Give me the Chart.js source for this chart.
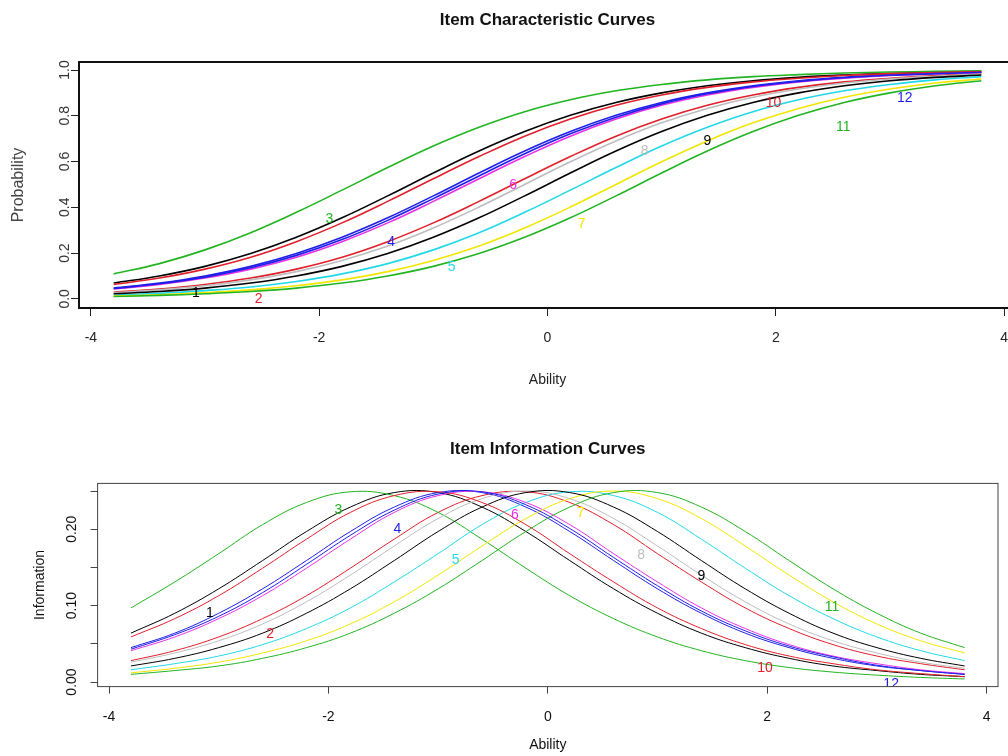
<!DOCTYPE html>
<html>
<head>
<meta charset="utf-8">
<script src="https://cdn.jsdelivr.net/npm/chart.js@4.4.1/dist/chart.umd.min.js"></script>
<style>
  html, body { margin: 0; padding: 0; background: #fff; width: 1008px; height: 756px; overflow: hidden; position: relative; }
  canvas { position: absolute; left: 0; }
  #iccChart { top: 0; }
  #infoChart { top: 400px; }
</style>
</head>
<body>
<canvas id="iccChart" width="1030" height="400"></canvas>
<canvas id="infoChart" width="1008" height="356"></canvas>
<script>
// ability grid the curves were read at
const abilityPoints = [-3.8, -3.4, -3.0, -2.6, -2.2, -1.8, -1.4, -1.0, -0.6, -0.2, 0.2, 0.6, 1.0, 1.4, 1.8, 2.2, 2.6, 3.0, 3.4, 3.8];
const abilityTicks = [-4, -2, 0, 2, 4];
const probTicks = [0, 0.2, 0.4, 0.6, 0.8, 1.0];
const infoTicks = [0, 0.05, 0.10, 0.15, 0.20, 0.25];
const infoTickText = ["0.00", "", "0.10", "", "0.20", ""];

const itemNames = ["1", "2", "3", "4", "5", "6", "7", "8", "9", "10", "11", "12"];
const itemColors = ["#000000", "#e0202a", "#22b422", "#1f1fe8", "#22d8e8", "#e632e6",
                    "#f2e600", "#bdbdbd", "#000000", "#e0202a", "#22b422", "#1f1fe8"];

// item characteristic curves (probability)
const icc1  = [.069, .100, .142, .198, .269, .354, .450, .550, .646, .731, .802, .858, .900, .931, .953, .968, .978, .985, .990, .993];
const icc2  = [.029, .043, .063, .091, .130, .182, .250, .332, .426, .525, .622, .711, .786, .846, .891, .924, .948, .964, .976, .984];
const icc3  = [.109, .154, .214, .289, .378, .475, .574, .668, .750, .818, .870, .909, .937, .957, .971, .980, .987, .991, .994, .996];
const icc4  = [.047, .069, .100, .142, .198, .269, .354, .450, .550, .646, .731, .802, .858, .900, .931, .953, .968, .978, .985, .990];
const icc5  = [.016, .024, .036, .052, .076, .109, .154, .214, .289, .378, .475, .574, .668, .750, .818, .870, .909, .937, .957, .971];
const icc6  = [.043, .063, .091, .130, .182, .250, .332, .426, .525, .622, .711, .786, .846, .891, .924, .948, .964, .976, .984, .989];
const icc7  = [.012, .018, .027, .039, .057, .083, .119, .168, .231, .310, .401, .500, .599, .690, .769, .832, .881, .917, .943, .961];
const icc8  = [.027, .039, .057, .083, .119, .168, .231, .310, .401, .500, .599, .690, .769, .832, .881, .917, .943, .961, .973, .982];
const icc9  = [.022, .032, .047, .069, .100, .142, .198, .269, .354, .450, .550, .646, .731, .802, .858, .900, .931, .953, .968, .978];
const icc10 = [.063, .091, .130, .182, .250, .332, .426, .525, .622, .711, .786, .846, .891, .924, .948, .964, .976, .984, .989, .993];
const icc11 = [.010, .015, .022, .032, .047, .069, .100, .142, .198, .269, .354, .450, .550, .646, .731, .802, .858, .900, .931, .953];
const icc12 = [.045, .066, .095, .136, .190, .259, .343, .438, .537, .634, .721, .794, .852, .896, .928, .950, .966, .977, .984, .990];

// item information curves
const info1  = [.064, .090, .122, .159, .197, .229, .248, .248, .229, .197, .159, .122, .090, .064, .045, .031, .021, .015, .010, .007];
const info2  = [.028, .041, .059, .083, .113, .149, .187, .222, .244, .249, .235, .206, .168, .131, .097, .070, .049, .034, .024, .016];
const info3  = [.097, .131, .168, .206, .235, .249, .244, .222, .187, .149, .113, .083, .059, .041, .028, .019, .013, .009, .006, .004];
const info4  = [.045, .064, .090, .122, .159, .197, .229, .248, .248, .229, .197, .159, .122, .090, .064, .045, .031, .021, .015, .010];
const info5  = [.016, .024, .034, .049, .070, .097, .131, .168, .206, .235, .249, .244, .222, .187, .149, .113, .083, .059, .041, .028];
const info6  = [.041, .059, .083, .113, .149, .187, .222, .244, .249, .235, .206, .168, .131, .097, .070, .049, .034, .024, .016, .011];
const info7  = [.012, .018, .026, .038, .054, .076, .105, .140, .178, .214, .240, .250, .240, .214, .178, .140, .105, .076, .054, .038];
const info8  = [.026, .038, .054, .076, .105, .140, .178, .214, .240, .250, .240, .214, .178, .140, .105, .076, .054, .038, .026, .018];
const info9  = [.021, .031, .045, .064, .090, .122, .159, .197, .229, .248, .248, .229, .197, .159, .122, .090, .064, .045, .031, .021];
const info10 = [.059, .083, .113, .149, .187, .222, .244, .249, .235, .206, .168, .131, .097, .070, .049, .034, .024, .016, .011, .007];
const info11 = [.010, .015, .021, .031, .045, .064, .090, .122, .159, .197, .229, .248, .248, .229, .197, .159, .122, .090, .064, .045];
const info12 = [.043, .062, .086, .117, .154, .192, .225, .246, .249, .232, .201, .163, .126, .093, .067, .047, .033, .022, .015, .010];

// where the item numbers sit on each panel
const labelAbility = [-3.08, -2.53, -1.91, -1.37, -0.84, -0.30, 0.30, 0.85, 1.40, 1.98, 2.59, 3.13];
const iccLabelY  = [0.026, 0.0, 0.35, 0.246, 0.14, 0.496, 0.325, 0.645, 0.689, 0.855, 0.75, 0.877];
const infoLabelY = [0.090, 0.063, 0.225, 0.200, 0.160, 0.218, 0.221, 0.166, 0.138, 0.018, 0.098, -0.003];

const iccSeries = [icc1, icc2, icc3, icc4, icc5, icc6, icc7, icc8, icc9, icc10, icc11, icc12];
const infoSeries = [info1, info2, info3, info4, info5, info6, info7, info8, info9, info10, info11, info12];

const FONT = "'Liberation Sans', Arial, Helvetica, sans-serif";
Chart.defaults.font.family = FONT;
Chart.defaults.color = "#111";

// R style box plus the curve numbers
const frameAndLabels = {
  id: "frameAndLabels",
  afterDatasetsDraw(chart, args, opts) {
    const { ctx, chartArea: a, scales } = chart;
    ctx.save();
    ctx.beginPath();
    ctx.rect(a.left, a.top, a.right - a.left, a.bottom - a.top);
    ctx.clip();
    ctx.font = "14px " + FONT;
    ctx.textAlign = "center";
    ctx.textBaseline = "middle";
    opts.ys.forEach((v, i) => {
      ctx.fillStyle = itemColors[i];
      ctx.fillText(itemNames[i], scales.x.getPixelForValue(labelAbility[i]), scales.y.getPixelForValue(v));
    });
    ctx.restore();
    ctx.save();
    ctx.strokeStyle = opts.frameColor;
    ctx.lineWidth = opts.frameWidth;
    ctx.strokeRect(a.left, a.top, a.right - a.left, a.bottom - a.top);
    ctx.restore();
  }
};

function makeDatasets(series, width) {
  return series.map((vals, i) => ({
    label: itemNames[i],
    data: abilityPoints.map((x, j) => ({ x: x, y: vals[j] })),
    borderColor: itemColors[i],
    borderWidth: width,
    pointRadius: 0,
    tension: 0.4,
    fill: false,
    order: series.length - i
  }));
}

function renderIccChart() {
  const ctx = document.getElementById("iccChart").getContext("2d");
  new Chart(ctx, {
    type: "line",
    data: { datasets: makeDatasets(iccSeries, 1.6) },
    options: {
      responsive: false,
      animation: false,
      layout: { padding: { left: 0, right: 14, top: 0, bottom: 0 } },
      plugins: {
        legend: { display: false },
        tooltip: { enabled: false },
        title: {
          display: true, fullSize: false,
          text: "Item Characteristic Curves",
          font: { size: 17, weight: "bold" }, color: "#111",
          padding: { top: 10, bottom: 31.6 }
        },
        frameAndLabels: { ys: iccLabelY, frameColor: "#111", frameWidth: 2 }
      },
      scales: {
        x: {
          type: "linear", min: -4.104, max: 4.104,
          afterBuildTicks: s => { s.ticks = abilityTicks.map(v => ({ value: v })); },
          afterFit: s => { s.height = 92; },
          ticks: { autoSkip: false, maxRotation: 0, padding: 14, font: { size: 14 }, color: "#222", callback: v => String(v) },
          grid: { drawOnChartArea: false, drawTicks: true, tickLength: 8, color: "#222" },
          border: { display: false },
          title: { display: true, text: "Ability", font: { size: 14 }, color: "#222", padding: { top: 0, bottom: 11.6 } }
        },
        y: {
          min: -0.04, max: 1.035,
          afterBuildTicks: s => { s.ticks = probTicks.map(v => ({ value: v })); },
          afterFit: s => { s.width = 79; },
          ticks: { autoSkip: false, minRotation: 90, maxRotation: 90, crossAlign: "center", padding: -4,
                   font: { size: 14 }, color: "#333", callback: v => v.toFixed(1) },
          grid: { drawOnChartArea: false, drawTicks: true, tickLength: 8, color: "#222" },
          border: { display: false },
          title: { display: true, text: "Probability", font: { size: 16 }, color: "#444", padding: { top: 9.4, bottom: 0 } }
        }
      }
    },
    plugins: [frameAndLabels]
  });
}

function renderInfoChart() {
  const ctx = document.getElementById("infoChart").getContext("2d");
  new Chart(ctx, {
    type: "line",
    data: { datasets: makeDatasets(infoSeries, 1) },
    options: {
      responsive: false,
      animation: false,
      layout: { padding: { left: 0, right: 10, top: 0, bottom: 0 } },
      plugins: {
        legend: { display: false },
        tooltip: { enabled: false },
        title: {
          display: true, fullSize: false,
          text: "Item Information Curves",
          font: { size: 17, weight: "bold" }, color: "#111",
          padding: { top: 39, bottom: 24 }
        },
        frameAndLabels: { ys: infoLabelY, frameColor: "#444", frameWidth: 1 }
      },
      scales: {
        x: {
          type: "linear", min: -4.104, max: 4.104,
          afterBuildTicks: s => { s.ticks = abilityTicks.map(v => ({ value: v })); },
          afterFit: s => { s.height = 69.4; },
          ticks: { autoSkip: false, maxRotation: 0, padding: 15, font: { size: 14 }, color: "#111", callback: v => String(v) },
          grid: { drawOnChartArea: false, drawTicks: true, tickLength: 7, color: "#444" },
          border: { display: false },
          title: { display: true, text: "Ability", font: { size: 14 }, color: "#111", padding: { top: 0, bottom: 2.6 } }
        },
        y: {
          min: -0.006, max: 0.26,
          afterBuildTicks: s => { s.ticks = infoTicks.map(v => ({ value: v })); },
          afterFit: s => { s.width = 97.6; },
          ticks: { autoSkip: false, minRotation: 90, maxRotation: 90, crossAlign: "center", padding: 4.4,
                   font: { size: 14 }, color: "#111", callback: (v, i) => infoTickText[i] },
          grid: { drawOnChartArea: false, drawTicks: true, tickLength: 7, color: "#444" },
          border: { display: false },
          title: { display: true, text: "Information", font: { size: 14 }, color: "#111", padding: { top: 31.6, bottom: 0 } }
        }
      }
    },
    plugins: [frameAndLabels]
  });
}

renderIccChart();
renderInfoChart();
</script>
</body>
</html>
